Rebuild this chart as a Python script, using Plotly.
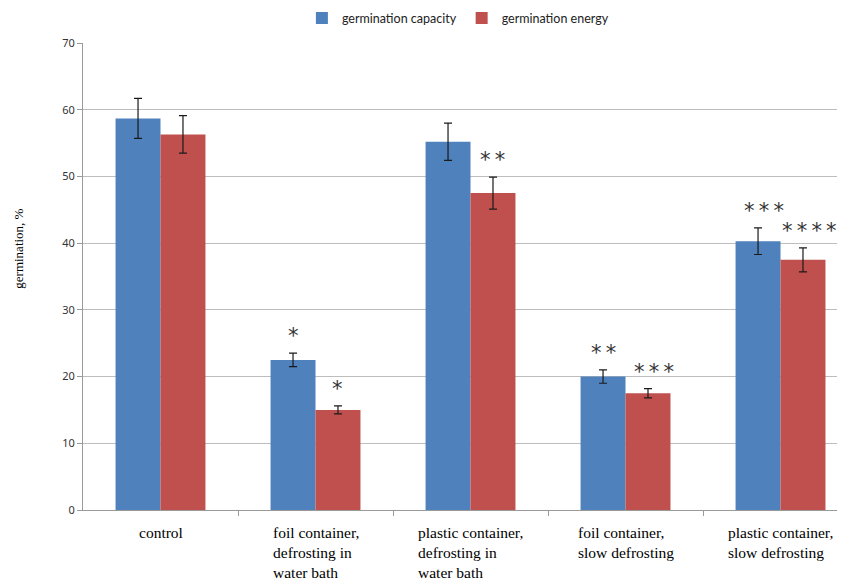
import plotly.graph_objects as go

categories = ["control", "foil container,<br>defrosting in<br>water bath",
              "plastic container,<br>defrosting in<br>water bath",
              "foil container,<br>slow defrosting", "plastic container,<br>slow defrosting"]
cat_keys = ["c0", "c1", "c2", "c3", "c4"]
capacity = [58.7, 22.5, 55.2, 20.0, 40.3]
capacity_err = [3.0, 1.0, 2.8, 1.0, 2.0]
energy = [56.3, 15.0, 47.5, 17.5, 37.5]
energy_err = [2.8, 0.6, 2.4, 0.7, 1.8]
capacity_stars = ["", "*", "", "**", "***"]
energy_stars = ["", "*", "**", "***", "****"]
y_ticks = [0, 10, 20, 30, 40, 50, 60, 70]

blue = "#4f81bd"
red = "#c0504d"

fig = go.Figure()
fig.add_trace(go.Bar(x=cat_keys, y=capacity, name="germination capacity",
                     marker=dict(color=blue, line=dict(width=0)),
                     error_y=dict(type="data", array=capacity_err, color="#1a1a1a", thickness=1.2, width=4)))
fig.add_trace(go.Bar(x=cat_keys, y=energy, name="germination energy",
                     marker=dict(color=red, line=dict(width=0)),
                     error_y=dict(type="data", array=energy_err, color="#1a1a1a", thickness=1.2, width=4)))

annotations = []
for i, k in enumerate(cat_keys):
    annotations.append(dict(x=k, y=0, xref="x", yref="y", text=categories[i], showarrow=False,
                            xanchor="center", yanchor="top", align="left", yshift=-12,
                            font=dict(family="Liberation Serif, Times New Roman, serif", size=15.5, color="#000")))
    for stars, vals, errs, off in ((capacity_stars, capacity, capacity_err, -0.145),
                                   (energy_stars, energy, energy_err, 0.145)):
        if stars[i]:
            annotations.append(dict(x=i + off + (0.04 if len(stars[i]) > 2 else 0), y=vals[i] + errs[i],
                                    xref="x", yref="y",
                                    text="\u2009".join(stars[i]), showarrow=False,
                                    xanchor="center", yanchor="bottom", yshift=3,
                                    font=dict(family="DejaVu Sans, sans-serif", size=21, color="#333333")))

annotations.append(dict(x=-0.085, y=0.56, xref="paper", yref="paper", text="germination, %",
                        textangle=-90, showarrow=False, xanchor="center", yanchor="middle",
                        font=dict(family="Liberation Serif, Times New Roman, serif", size=13, color="#000")))

fig.update_layout(
    width=837, height=573,
    margin=dict(l=75, r=0, t=35, b=71, autoexpand=False),
    paper_bgcolor="white", plot_bgcolor="white",
    barmode="group", bargap=0.42, bargroupgap=0,
    showlegend=True,
    legend=dict(orientation="h", x=0.492, xanchor="center", y=0.982, yanchor="middle",
                yref="container", font=dict(family="Lato, sans-serif", size=12.5, color="#222"),
                itemwidth=30, tracegroupgap=0),
    annotations=annotations,
    xaxis=dict(range=[-0.5, 4.416], showticklabels=False, showline=True, linecolor="#9a9a9a",
               linewidth=1, ticks="", showgrid=False, zeroline=False, automargin=False),
    yaxis=dict(range=[0, 70], tickvals=y_ticks, showgrid=True, gridcolor="#bdbdbd", gridwidth=1,
               showline=True, linecolor="#9a9a9a", linewidth=1, ticks="outside", ticklen=5,
               tickcolor="#9a9a9a", zeroline=False, automargin=False,
               tickfont=dict(family="Noto Sans, sans-serif", size=11, color="#333")),
)
fig.update_xaxes(minor=dict(tickvals=[0.5, 1.5, 2.5, 3.5], ticks="outside", ticklen=5, tickcolor="#9a9a9a"))

fig.write_html("out.html")
